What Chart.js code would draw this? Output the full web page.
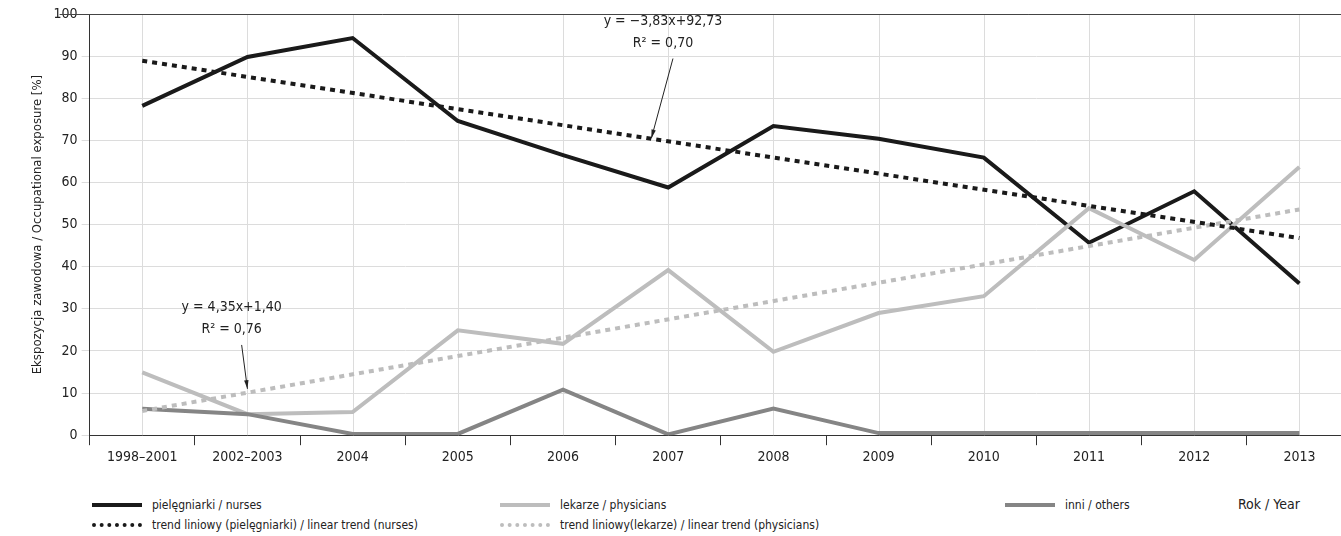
<!DOCTYPE html>
<html>
<head>
<meta charset="utf-8">
<script src="https://cdn.jsdelivr.net/npm/chart.js@4"></script>
<style>
  body { margin: 0; background: #fff; font-family: "DejaVu Sans Condensed", "Roboto", sans-serif; overflow: hidden; }
  #wrap { position: relative; width: 1352px; height: 470px; }
  .legend { position: absolute; font-size: 12px; color: #222; display: flex; align-items: center; }
  .legend span.sw { display: inline-block; width: 50px; height: 0; margin-right: 10px; }
</style>
</head>
<body>
<div id="wrap"><canvas id="c"></canvas></div>
<div class="legend" style="left:92px;top:498px"><span class="sw" style="border-top:4px solid #1a1a1a"></span>pielęgniarki / nurses</div>
<div class="legend" style="left:500px;top:498px"><span class="sw" style="border-top:4px solid #bdbdbd"></span>lekarze / physicians</div>
<div class="legend" style="left:1005px;top:498px"><span class="sw" style="border-top:4px solid #858585"></span>inni / others</div>
<div class="legend" style="left:92px;top:518px"><span class="sw" style="border-top:4px dotted #1a1a1a"></span>trend liniowy (pielęgniarki) / linear trend (nurses)</div>
<div class="legend" style="left:500px;top:518px"><span class="sw" style="border-top:4px dotted #bdbdbd"></span>trend liniowy(lekarze) / linear trend (physicians)</div>
<div class="legend" style="left:1238px;top:496px;font-size:14px">Rok / Year</div>
<script>
const years = ["1998–2001","2002–2003","2004","2005","2006","2007","2008","2009","2010","2011","2012","2013"];
const nurses = [78.2, 89.8, 94.3, 74.6, 66.5, 58.8, 73.4, 70.4, 65.9, 45.7, 57.9, 36.0];
const physicians = [14.9, 5.0, 5.5, 24.9, 21.7, 39.2, 19.8, 29.0, 33.0, 53.9, 41.6, 63.7];
const others = [6.3, 5.0, 0.3, 0.3, 10.8, 0.2, 6.3, 0.5, 0.5, 0.5, 0.5, 0.5];
const trendNurses = [88.9, null, null, null, null, null, null, null, null, null, null, 46.8];
const trendPhysicians = [5.75, null, null, null, null, null, null, null, null, null, null, 53.6];
const yTicks = [0, 10, 20, 30, 40, 50, 60, 70, 80, 90, 100];
const notes = [
  { lines: ["y = −3,83x+92,73", "R² = 0,70"], at: 4.95, textY: 97.5, tip: [4.84, 70.5] },
  { lines: ["y = 4,35x+1,40", "R² = 0,76"], at: 0.85, textY: 29.5, tip: [1.0, 11] }
];
const FONT = "'DejaVu Sans Condensed', Roboto, sans-serif";

const extras = {
  id: "extras",
  beforeDatasetsDraw(chart) {
    const { ctx, chartArea: a, scales: { x } } = chart;
    ctx.save();
    ctx.strokeStyle = "#dcdcdc"; ctx.lineWidth = 1;
    years.forEach((_, i) => {
      const px = Math.round(x.getPixelForValue(i)) + 0.5;
      ctx.beginPath(); ctx.moveTo(px, a.top); ctx.lineTo(px, a.bottom); ctx.stroke();
    });
    ctx.strokeStyle = "#444";
    ctx.beginPath(); ctx.moveTo(a.left - 30, a.top + 0.5); ctx.lineTo(1352, a.top + 0.5); ctx.stroke();
    ctx.restore();
  },
  afterDatasetsDraw(chart) {
    const { ctx, scales: { x, y } } = chart;
    ctx.save();
    ctx.fillStyle = "#222"; ctx.strokeStyle = "#222"; ctx.font = "14px " + FONT; ctx.textAlign = "center";
    notes.forEach(n => {
      const cx = x.getPixelForValue(n.at), ty = y.getPixelForValue(n.textY);
      n.lines.forEach((l, k) => ctx.fillText(l, cx, ty + k * 22));
      const sx = cx + 10, sy = ty + 34;
      const ex = x.getPixelForValue(n.tip[0]), ey = y.getPixelForValue(n.tip[1]);
      ctx.lineWidth = 1;
      ctx.beginPath(); ctx.moveTo(sx, sy); ctx.lineTo(ex, ey); ctx.stroke();
      const ang = Math.atan2(ey - sy, ex - sx);
      ctx.beginPath();
      ctx.moveTo(ex, ey);
      ctx.lineTo(ex - 9 * Math.cos(ang - 0.25), ey - 9 * Math.sin(ang - 0.25));
      ctx.lineTo(ex - 9 * Math.cos(ang + 0.25), ey - 9 * Math.sin(ang + 0.25));
      ctx.closePath(); ctx.fill();
    });
    ctx.restore();
  }
};

const line = (data, color, dash) => ({
  data, borderColor: color, borderWidth: 4, pointRadius: 0, tension: 0,
  borderDash: dash || [], spanGaps: true, fill: false
});

new Chart(document.getElementById("c"), {
  type: "line",
  data: {
    labels: years,
    datasets: [
      line(trendNurses, "#1a1a1a", [5, 5]),
      line(trendPhysicians, "#bdbdbd", [5, 5]),
      line(others, "#858585"),
      line(physicians, "#bdbdbd"),
      line(nurses, "#1a1a1a")
    ]
  },
  options: {
    responsive: true, maintainAspectRatio: false, animation: false,
    layout: { padding: { top: 14, right: 0, left: 26, bottom: 0 } },
    plugins: { legend: { display: false }, tooltip: { enabled: false } },
    scales: {
      x: {
        offset: true,
        grid: { offset: true, drawOnChartArea: false, color: "#333", tickLength: 10 },
        border: { color: "#333" },
        ticks: { color: "#222", font: { family: FONT, size: 14 }, padding: 4 }
      },
      y: {
        min: 0, max: 100,
        afterBuildTicks: s => { s.ticks = yTicks.map(v => ({ value: v })); },
        grid: { color: "#dcdcdc", tickLength: 8 },
        border: { color: "#333" },
        ticks: { color: "#222", font: { family: FONT, size: 14 }, padding: 4 },
        title: { display: true, text: "Ekspozycja zawodowa / Occupational exposure [%]", color: "#222", font: { family: FONT, size: 13 } }
      }
    }
  },
  plugins: [extras]
});
</script>
</body>
</html>
